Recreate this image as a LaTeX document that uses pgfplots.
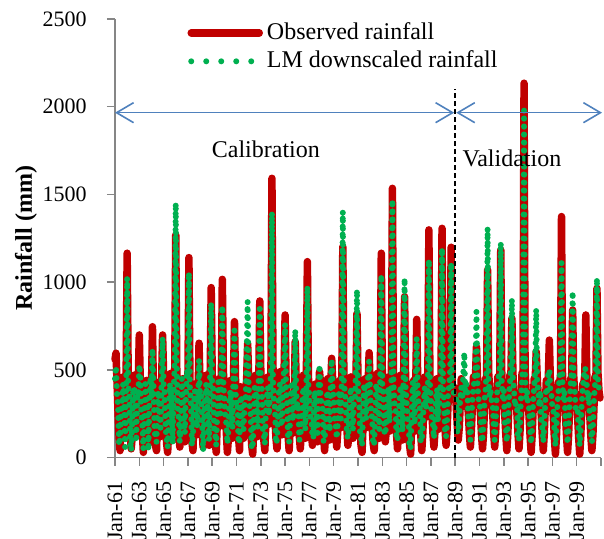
\documentclass[border=0pt]{standalone}
\usepackage{fontspec}
\setmainfont{Liberation Serif}
\usepackage{pgfplots}
\pgfplotsset{compat=1.18}
\usepackage{pgfplotstable}
\usetikzlibrary{arrows.meta}
\definecolor{obsred}{HTML}{C00000}
\definecolor{lmgreen}{HTML}{00B050}
\definecolor{axgray}{HTML}{868686}
\definecolor{arrowblue}{HTML}{4F81BD}

\pgfplotsset{
  obsleg/.style={legend image code/.code={\draw[##1] (0pt,0pt) -- (34pt,0pt);}},
  lmleg/.style={legend image code/.code={\draw[##1, dash pattern=on 0pt off 7.5pt] (0pt,0pt) -- (31pt,0pt);}},
}

% monthly rainfall (mm), index 0 = Jan-61
\pgfplotstableread{
idx obs lm
0 560 450
1 595 520
2 430 360
3 260 300
4 120 70
5 40 110
6 180 260
7 380 330
8 460 420
9 250 280
10 110 60
11 470 400
12 1165 1024
13 480 420
14 300 360
15 160 110
16 50 40
17 120 200
18 330 380
19 470 400
20 280 330
21 140 90
22 320 380
23 440 350
24 699 528
25 420 470
26 330 250
27 150 190
28 30 50
29 140 230
30 350 420
31 440 300
32 230 290
33 80 40
34 260 330
35 410 460
36 380 340
37 746 619
38 360 430
39 210 160
40 70 100
41 40 90
42 260 330
43 430 380
44 210 250
45 120 170
46 420 460
47 699 682
48 470 420
49 330 380
50 200 160
51 80 110
52 30 60
53 160 220
54 360 420
55 480 380
56 250 300
57 100 80
58 330 380
59 500 560
60 1269 1450
61 500 540
62 330 280
63 170 220
64 60 90
65 160 200
66 390 450
67 450 340
68 220 260
69 90 140
70 290 340
71 460 500
72 420 460
73 1140 1054
74 450 400
75 240 300
76 90 70
77 40 120
78 240 300
79 420 380
80 300 250
81 130 170
82 340 310
83 652 556
84 400 340
85 300 370
86 170 210
87 60 40
88 110 170
89 300 330
90 470 420
91 280 320
92 120 200
93 70 100
94 460 520
95 969 881
96 480 420
97 340 390
98 200 160
99 90 130
100 30 70
101 200 260
102 380 430
103 450 360
104 180 250
105 420 470
106 1016 864
107 500 440
108 360 320
109 280 230
110 140 190
111 30 80
112 110 160
113 300 340
114 440 380
115 250 300
116 110 170
117 430 500
118 775 746
119 450 400
120 320 280
121 220 290
122 120 80
123 40 100
124 404 350
125 300 350
126 200 160
127 110 160
128 260 300
129 380 330
130 440 580
131 650 889
132 460 410
133 330 290
134 190 240
135 70 50
136 20 60
137 160 220
138 330 400
139 470 390
140 240 290
141 120 170
142 420 470
143 893 870
144 490 440
145 350 400
146 210 160
147 100 130
148 40 80
149 210 260
150 380 340
151 460 400
152 190 240
153 280 350
154 460 500
155 1592 1396
156 520 460
157 360 320
158 220 280
159 110 80
160 50 100
161 170 240
162 340 400
163 490 420
164 240 200
165 130 180
166 330 390
167 480 520
168 813 760
169 420 380
170 260 300
171 120 90
172 40 90
173 170 220
174 360 410
175 300 250
176 140 210
177 340 400
178 661 727
179 420 370
180 340 300
181 240 310
182 130 100
183 50 110
184 140 190
185 290 330
186 470 400
187 240 300
188 110 160
189 460 420
190 1117 975
191 460 420
192 380 340
193 260 220
194 150 210
195 70 120
196 160 110
197 330 380
198 420 360
199 200 260
200 90 140
201 340 390
202 490 528
203 420 340
204 350 310
205 240 290
206 130 90
207 40 100
208 130 170
209 300 340
210 450 380
211 220 280
212 100 150
213 370 420
214 566 560
215 440 400
216 370 330
217 260 220
218 140 180
219 60 110
220 150 190
221 310 360
222 440 380
223 170 220
224 420 470
225 1202 1402
226 490 440
227 330 380
228 250 290
229 170 140
230 70 110
231 140 180
232 300 350
233 460 400
234 240 290
235 110 160
236 280 320
237 380 340
238 450 510
239 822 955
240 440 390
241 310 350
242 170 140
243 70 110
244 30 70
245 190 240
246 370 420
247 450 370
248 170 220
249 290 340
250 420 460
251 598 550
252 420 380
253 290 250
254 180 230
255 80 70
256 40 80
257 180 230
258 360 420
259 480 400
260 220 260
261 110 160
262 440 490
263 1165 1041
264 470 420
265 320 370
266 190 150
267 90 130
268 160 200
269 320 290
270 460 400
271 150 200
272 280 330
273 460 430
274 1535 1469
275 480 440
276 350 310
277 250 300
278 140 100
279 50 100
280 140 180
281 300 340
282 470 410
283 230 280
284 100 150
285 420 470
286 917 1022
287 450 410
288 360 320
289 260 220
290 150 200
291 70 50
292 20 60
293 190 240
294 380 430
295 440 360
296 150 190
297 390 440
298 788 680
299 430 390
300 340 290
301 240 290
302 130 90
303 40 90
304 140 180
305 280 320
306 460 400
307 230 280
308 290 330
309 460 420
310 1298 1127
311 470 430
312 370 330
313 260 220
314 140 190
315 60 110
316 150 190
317 300 340
318 450 390
319 160 210
320 250 300
321 350 330
322 440 490
323 1307 1193
324 420 380
325 280 330
326 160 130
327 70 120
328 160 200
329 320 360
330 470 410
331 460 500
332 1199 1109
333 420 380
334 330 380
335 400 360
336 390 350
337 300 350
338 190 150
339 100 140
340 170 220
341 310 340
342 450 400
343 290 330
344 340 480
345 420 598
346 410 360
347 380 420
348 340 380
349 250 220
350 140 180
351 60 100
352 160 200
353 300 340
354 460 400
355 400 440
356 450 500
357 632 832
358 460 420
359 370 340
360 330 290
361 240 290
362 130 90
363 50 110
364 140 190
365 290 330
366 450 390
367 440 500
368 1070 1307
369 490 450
370 390 350
371 340 380
372 360 320
373 260 310
374 140 180
375 60 100
376 150 200
377 310 350
378 460 400
379 420 460
380 480 520
381 1184 1225
382 470 430
383 380 340
384 340 380
385 240 200
386 130 170
387 40 90
388 140 180
389 290 330
390 470 430
391 460 510
392 794 902
393 480 440
394 360 400
395 330 290
396 350 310
397 250 300
398 140 100
399 50 110
400 150 190
401 300 340
402 480 440
403 490 520
404 2134 1978
405 500 460
406 380 340
407 340 380
408 330 290
409 230 280
410 120 160
411 30 80
412 130 170
413 280 320
414 450 410
415 440 500
416 604 845
417 460 420
418 350 390
419 320 290
420 340 380
421 240 200
422 130 170
423 40 90
424 140 180
425 290 320
426 440 400
427 420 380
428 460 490
429 670 500
430 430 380
431 340 370
432 320 280
433 220 270
434 110 150
435 20 70
436 120 160
437 270 310
438 430 380
439 410 450
440 470 510
441 1374 1111
442 460 420
443 360 330
444 330 370
445 230 190
446 120 160
447 30 80
448 130 170
449 280 320
450 450 410
451 440 490
452 841 946
453 470 430
454 360 390
455 310 280
456 320 290
457 220 270
458 110 150
459 20 70
460 120 160
461 270 310
462 420 400
463 420 460
464 470 510
465 813 500
466 450 410
467 350 330
468 330 370
469 230 200
470 120 160
471 40 90
472 130 170
473 280 320
474 460 410
475 450 500
476 965 1022
477 480 440
478 380 390
479 340 360
}\rainfall

\begin{document}
\fontsize{12}{14.4}\selectfont
\begin{tikzpicture}
\useasboundingbox (-57.5pt,-40.7pt) rectangle (244.5pt,228.8pt);
\begin{axis}[
  at={(0,0)}, anchor=south west,
  width=243pt, height=219.3pt, scale only axis,
  xmin=0, xmax=480, ymin=0, ymax=2500,
  clip=false,
  axis x line*=bottom, axis y line*=left,
  axis line style={axgray, line width=0.75pt},
  tick style={axgray, line width=0.75pt},
  tick align=outside, major tick length=4pt,
  tick label style={font=\fontsize{11}{13}\selectfont},
  xtick={0,24,...,480},
  xticklabels={Jan-61,Jan-63,Jan-65,Jan-67,Jan-69,Jan-71,Jan-73,Jan-75,Jan-77,Jan-79,Jan-81,Jan-83,Jan-85,Jan-87,Jan-89,Jan-91,Jan-93,Jan-95,Jan-97,Jan-99,{}},
  xticklabel style={rotate=90, anchor=east},
  xticklabel shift=4pt,
  ytick={0,500,...,2500},
  yticklabel shift=6pt,
  scaled y ticks=false,
  /pgf/number format/assume math mode=true,
  /pgf/number format/1000 sep={},
  ylabel={\textbf{Rainfall (mm)}},
  every axis y label/.style={at={(rel axis cs:0,0.5)}, xshift=-44.5pt, rotate=90, anchor=center},
  legend cell align=left,
  legend style={at={(rel axis cs:0.136,1.011)}, anchor=north west, draw=none, fill=none,
    row sep=0pt, font=\fontsize{12}{14.4}\selectfont},
]
% observed
\addplot[obsred, line width=3.75pt, line join=round, line cap=round, obsleg]
  table[x=idx, y=obs] {\rainfall};
\addlegendentry{Observed rainfall}
% LM downscaled
\addplot[lmgreen, line width=3pt, line cap=round, dash pattern=on 0pt off 4pt, lmleg]
  table[x=idx, y=lm] {\rainfall};
\addlegendentry{LM downscaled rainfall}
% calibration / validation split at Jan-89
\addplot[black, line width=1pt, dash pattern=on 2.5pt off 1.5pt, forget plot]
  coordinates {(336,0) (336,2100)};
\addplot[arrowblue, line width=0.8pt, >={Straight Barb[length=8.5pt,width=10pt]}, <->, forget plot]
  coordinates {(0,1966) (335,1966)};
\addplot[arrowblue, line width=0.8pt, >={Straight Barb[length=8.5pt,width=10pt]}, <->, forget plot]
  coordinates {(337,1966) (481,1966)};
\node at (axis cs:149,1759) {Calibration};
\node at (axis cs:392,1708) {Validation};
\end{axis}
\end{tikzpicture}
\end{document}
